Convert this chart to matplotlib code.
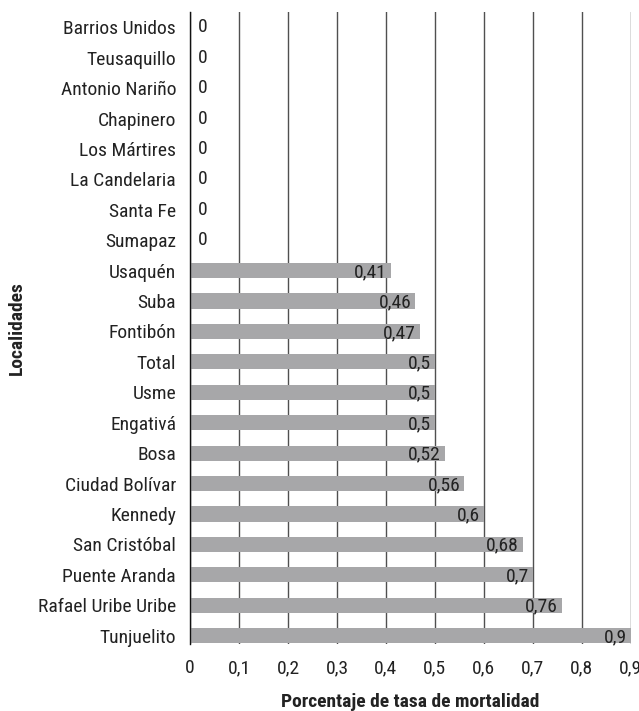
import matplotlib
matplotlib.use("Agg")
import matplotlib.pyplot as plt
from matplotlib import font_manager

names = {f.name for f in font_manager.fontManager.ttflist}
fam = [n for n in ["Roboto Condensed", "Archivo Narrow", "Liberation Sans Narrow"] if n in names] + ["DejaVu Sans"]
plt.rcParams['font.family'] = fam

localidades = ["Tunjuelito", "Rafael Uribe Uribe", "Puente Aranda", "San Cristóbal", "Kennedy",
               "Ciudad Bolívar", "Bosa", "Engativá", "Usme", "Total", "Fontibón", "Suba", "Usaquén",
               "Sumapaz", "Santa Fe", "La Candelaria", "Los Mártires", "Chapinero", "Antonio Nariño",
               "Teusaquillo", "Barrios Unidos"]
valores = [0.9, 0.76, 0.7, 0.68, 0.6, 0.56, 0.52, 0.5, 0.5, 0.5, 0.47, 0.46, 0.41,
           0, 0, 0, 0, 0, 0, 0, 0]
xticks = [0, 0.1, 0.2, 0.3, 0.4, 0.5, 0.6, 0.7, 0.8, 0.9]

FS = 14
TXT = "#222222"

fig = plt.figure(figsize=(6.39, 7.11), dpi=100)
ax = fig.add_axes([0.2973, 0.094, 0.690, 0.889])

y = list(range(len(localidades)))
ax.barh(y, valores, height=0.5, color="#a7a7a9", zorder=2)
ax.set_xlim(0, 0.9)
ax.set_ylim(-0.28, len(localidades) - 0.5)
ax.set_yticks(y)
ax.set_yticklabels(localidades, fontsize=FS, color=TXT)
ax.set_xticks(xticks)
ax.set_xticklabels([f"{t:g}".replace(".", ",") for t in xticks], fontsize=FS, color=TXT)
ax.tick_params(axis="y", length=0, pad=10)
ax.tick_params(axis="x", length=0, pad=11)
ax.grid(axis="x", color="#505050", linewidth=1, zorder=1)
ax.grid(axis="y", visible=False)
for s in ["top", "right", "bottom"]:
    ax.spines[s].set_visible(False)
ax.spines["left"].set_color("#111111")
ax.spines["left"].set_linewidth(1)
ax.spines["left"].set_zorder(3)

for yi, v in zip(y, valores):
    lab = f"{v:g}".replace(".", ",")
    if v == 0:
        ax.annotate(lab, (v, yi), xytext=(6, 0), textcoords="offset points",
                    ha="left", va="center", fontsize=FS, color=TXT, zorder=4)
    else:
        ax.annotate(lab, (v, yi), xytext=(-3, -1), textcoords="offset points",
                    ha="right", va="center", fontsize=FS, color=TXT, zorder=4)

ax.set_xlabel("Porcentaje de tasa de mortalidad", fontsize=FS, fontweight="bold",
              color=TXT, labelpad=11)
fig.text(0.026, 0.539, "Localidades", rotation=90, fontsize=FS, fontweight="bold",
         color=TXT, ha="center", va="center")

fig.savefig("out.png", dpi=100)
